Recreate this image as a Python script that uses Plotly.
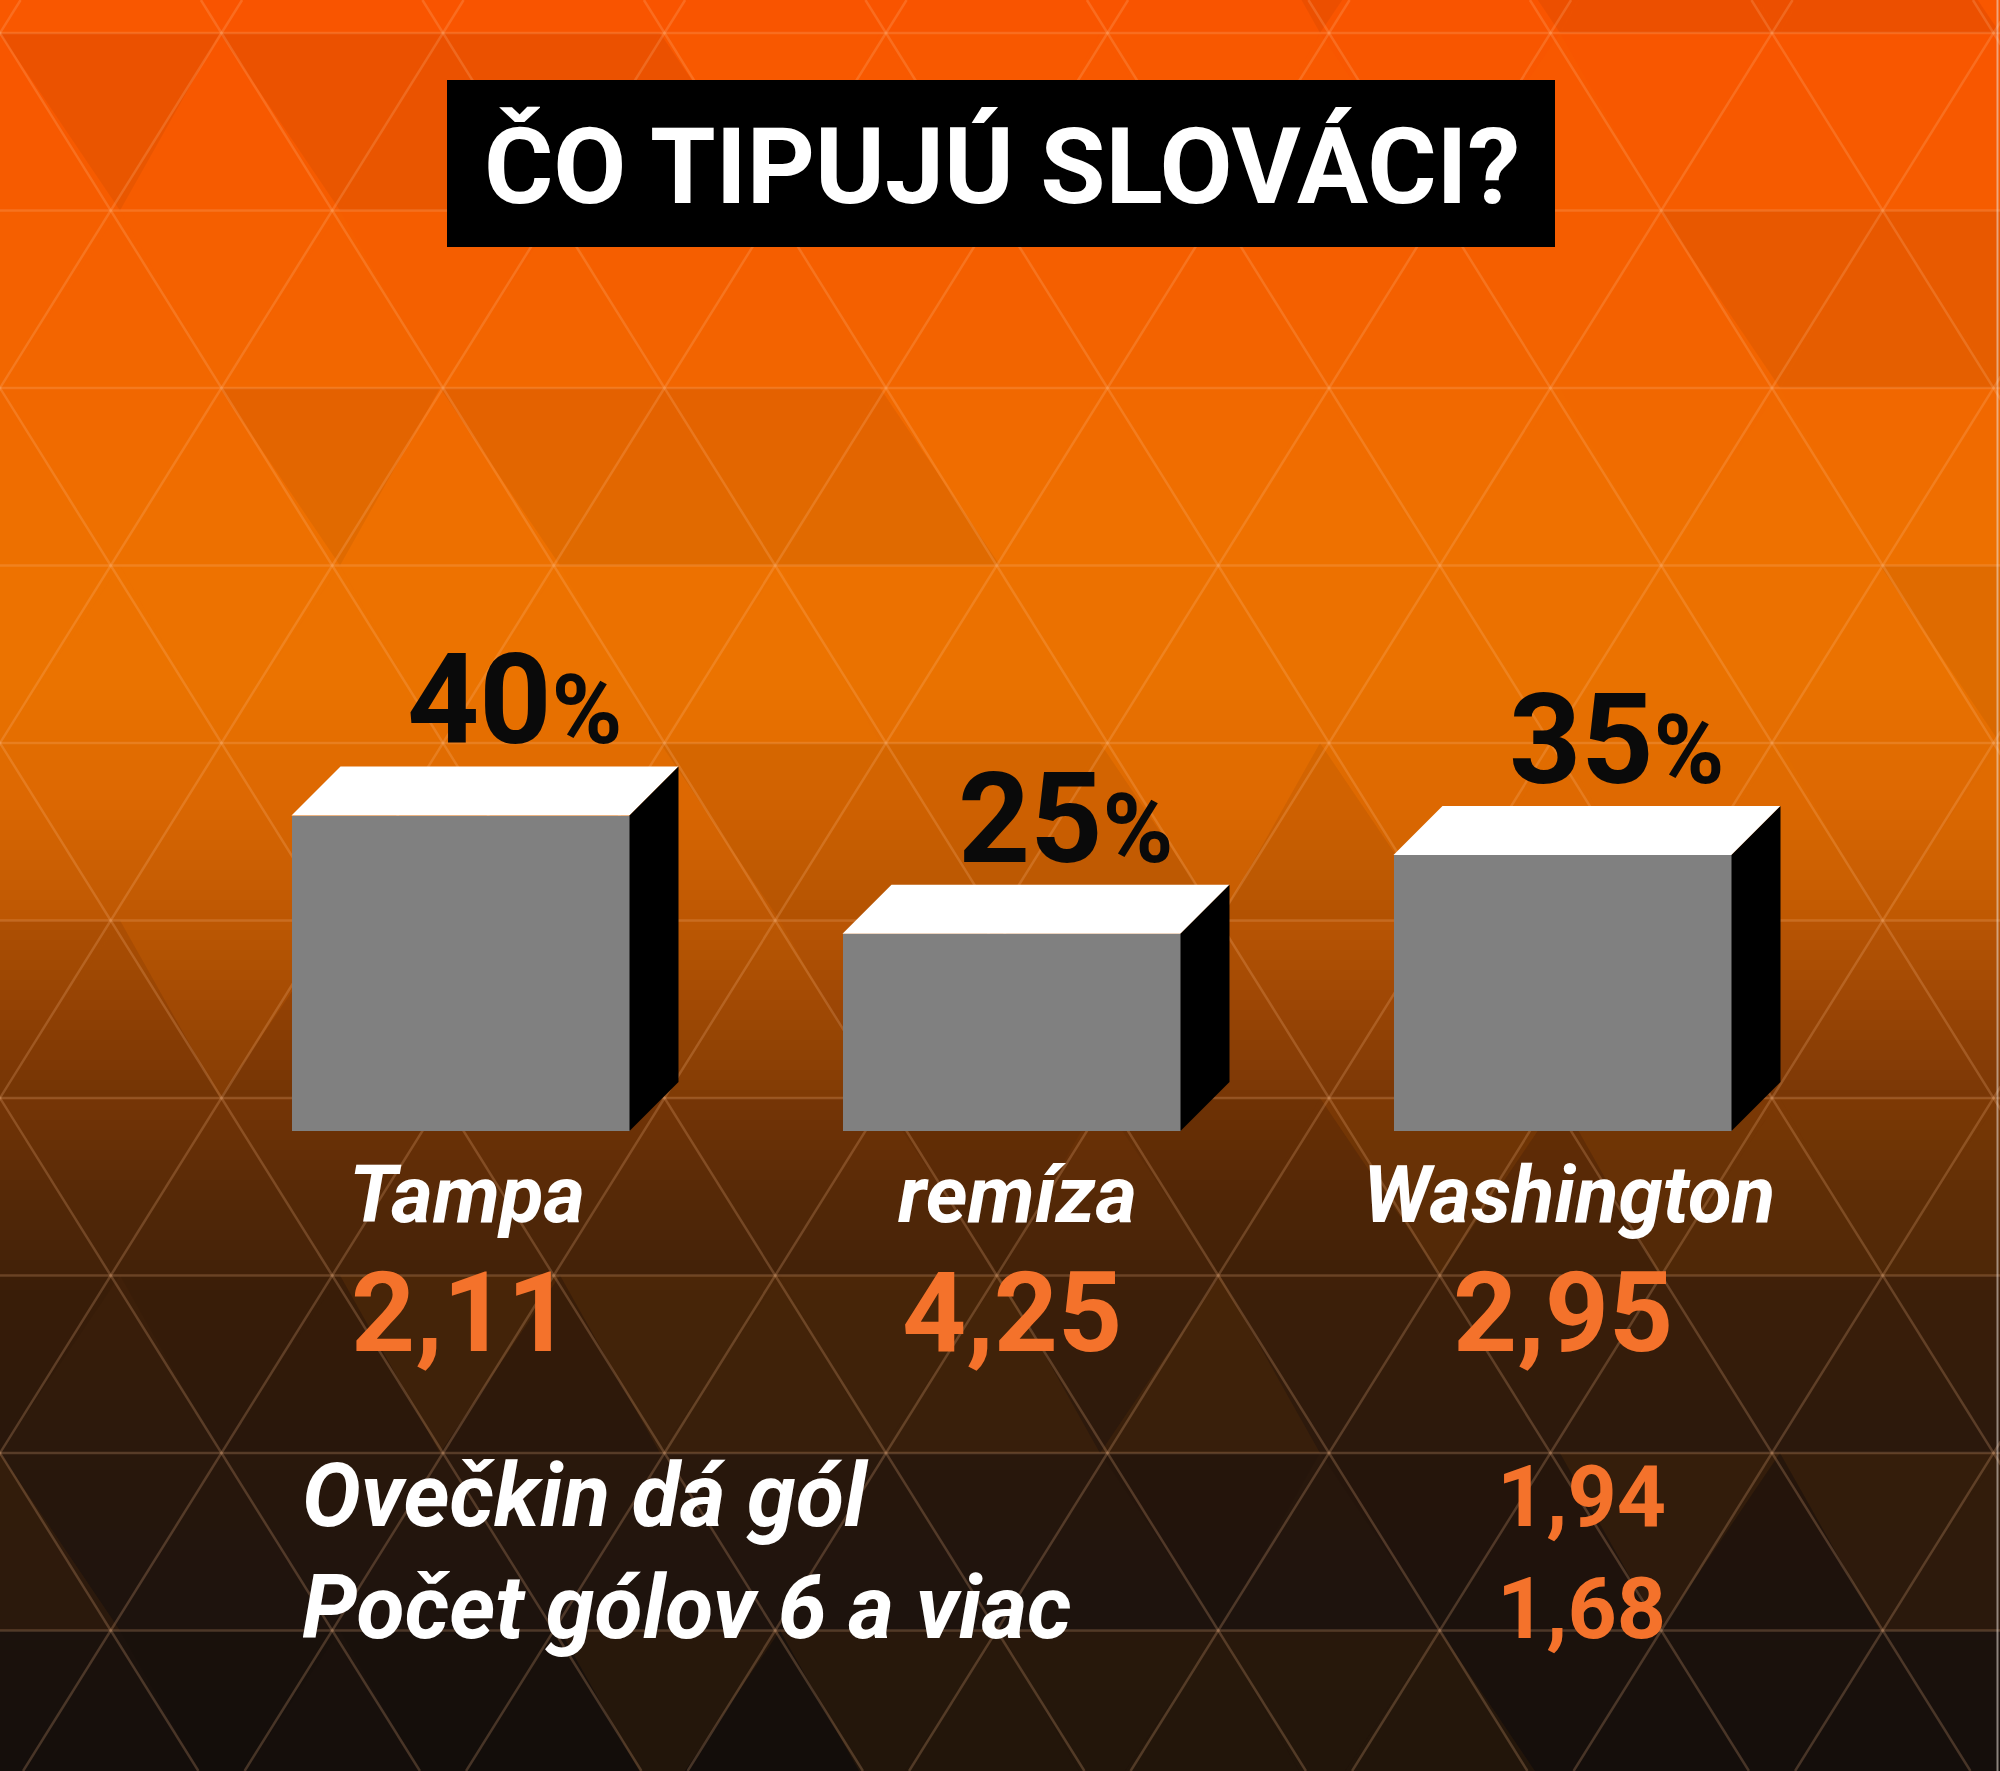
import plotly.graph_objects as go

# ---------------- data ----------------
categories = ["Tampa", "remíza", "Washington"]
tip_share = [40, 25, 35]                 # % of Slovak bettors
odds = ["2,11", "4,25", "2,95"]
extra_bets = ["Ovečkin dá gól", "Počet gólov 6 a viac"]
extra_odds = ["1,94", "1,68"]
title_text = "ČO TIPUJÚ SLOVÁCI?"

# ---------------- geometry / style ----------------
W, H = 2000, 1771
X0_PX, PX_PER_CAT = 460.5, 551.0      # category 0 centre, px per category
Y0_PX, PX_PER_PCT = 1131.0, 7.887     # baseline of bars, px per percent
BAR_W = 338 / PX_PER_CAT
DX = 49 / PX_PER_CAT                  # 3D depth (x)
DY = 49 / PX_PER_PCT                  # 3D depth (y)
ORANGE = "#F4722B"
FONT = "Roboto"
DESC = 0.244                          # Roboto descent (em)

x_range = [-X0_PX / PX_PER_CAT, (W - X0_PX) / PX_PER_CAT]
y_range = [-(H - Y0_PX) / PX_PER_PCT, Y0_PX / PX_PER_PCT]


def py(px):
    return 1 - px / H


def px_(px):
    return px / W


def hex2rgb(h):
    h = h.lstrip("#")
    return tuple(int(h[i:i + 2], 16) for i in (0, 2, 4))


grad_stops = [
    (0, "#F95400"), (300, "#F46000"), (520, "#EE7000"), (680, "#EA7200"),
    (800, "#DC6802"), (900, "#C25A03"), (1000, "#9E4705"), (1100, "#773606"),
    (1200, "#542807"), (1300, "#3C1F09"), (1450, "#2A180C"), (1600, "#1E130D"),
    (1771, "#140E0B"),
]


def grad_color(y):
    for (y0, c0), (y1, c1) in zip(grad_stops[:-1], grad_stops[1:]):
        if y0 <= y <= y1:
            t = (y - y0) / (y1 - y0)
            a, b = hex2rgb(c0), hex2rgb(c1)
            return "rgb(%d,%d,%d)" % tuple(round(a[k] + (b[k] - a[k]) * t) for k in range(3))
    return grad_stops[-1][1]


shapes = []
# gradient background
step = 10
for y in range(0, H, step):
    shapes.append(dict(type="rect", xref="paper", yref="paper", x0=0, x1=1,
                       y0=py(min(y + step + 1, H)), y1=py(y),
                       fillcolor=grad_color(y + step / 2), line=dict(width=0), layer="below"))

# triangle mosaic (decorative facets)
SIDE, ROW_H, LINE0 = 221.5, 177.5, 33.0
for r in range(-1, 10):
    ytop = LINE0 + ROW_H * r
    ybot = ytop + ROW_H
    off_top = 0 if r % 2 == 0 else SIDE / 2
    for m in range(-1, 11):
        for kind in (0, 1):
            xa = off_top + SIDE * m
            if kind == 0:   # pointing down
                pts = [(xa, ytop), (xa + SIDE, ytop), (xa + SIDE / 2, ybot)]
            else:           # pointing up
                pts = [(xa, ytop), (xa + SIDE / 2, ybot), (xa - SIDE / 2, ybot)]
            h = ((r + 3) * 73 + (m + 2) * 151 + kind * 37) * 2654435761 % 1000
            if h < 300:
                fc = "rgba(255,140,0,0.06)"
            elif h < 500:
                fc = "rgba(0,0,0,0.05)"
            else:
                continue
            path = "M " + " L ".join("%.2f,%.4f" % (px_(x), py(y)) for x, y in pts) + " Z"
            shapes.append(dict(type="path", xref="paper", yref="paper", path=path,
                               fillcolor=fc, line=dict(width=0), layer="below"))

LINE_COL = "rgba(255,190,140,0.22)"
for k in range(0, 10):
    yy = LINE0 + ROW_H * k
    shapes.append(dict(type="line", xref="paper", yref="paper", x0=0, x1=1, y0=py(yy), y1=py(yy),
                       line=dict(color=LINE_COL, width=2.5), layer="below"))
slope = (SIDE / 2) / ROW_H
for m in range(-6, 16):
    x0 = SIDE * m
    for sgn in (1, -1):
        xa = x0 + sgn * (0 - LINE0) * slope
        xb = x0 + sgn * (H - LINE0) * slope
        shapes.append(dict(type="line", xref="paper", yref="paper",
                           x0=px_(xa), x1=px_(xb), y0=py(0), y1=py(H),
                           line=dict(color=LINE_COL, width=2.5), layer="below"))

# thin light border on the right edge
shapes.append(dict(type="line", xref="paper", yref="paper", x0=px_(1997.5), x1=px_(1997.5),
                   y0=0, y1=1, line=dict(color="rgba(235,225,220,0.55)", width=2), layer="below"))

# title box
shapes.append(dict(type="rect", xref="paper", yref="paper", x0=px_(447), x1=px_(1555),
                   y0=py(247), y1=py(80), fillcolor="#000000", line=dict(width=0), layer="below"))

# ---------------- traces ----------------
xs = list(range(len(categories)))
fig = go.Figure()
fig.add_trace(go.Bar(x=xs, y=tip_share, width=BAR_W, marker=dict(color="#808080", line=dict(width=0)),
                     hoverinfo="skip", showlegend=False))

for i, v in zip(xs, tip_share):
    l, r_ = i - BAR_W / 2, i + BAR_W / 2
    fig.add_trace(go.Scatter(x=[l, r_, r_ + DX, l + DX, l], y=[v, v, v + DY, v + DY, v],
                             mode="lines", fill="toself", fillcolor="#FFFFFF",
                             line=dict(width=0, color="#FFFFFF"), hoverinfo="skip", showlegend=False))
    fig.add_trace(go.Scatter(x=[r_, r_ + DX, r_ + DX, r_, r_], y=[0, DY, v + DY, v, 0],
                             mode="lines", fill="toself", fillcolor="#000000",
                             line=dict(width=0, color="#000000"), hoverinfo="skip", showlegend=False))

annotations = []
# percentage labels
PCT_SIZE = 126
for i, v in zip(xs, tip_share):
    annotations.append(dict(x=i + 54 / PX_PER_CAT, y=v + DY, xref="x", yref="y",
                            text="<b>%d<span style='font-size:96px'>%%</span></b>" % v,
                            showarrow=False, xanchor="center", yanchor="bottom",
                            yshift=-(DESC * PCT_SIZE + 1 - 22),
                            font=dict(family=FONT, size=PCT_SIZE, color="#0A0A0A")))
# category labels
CAT_SIZE = 80
for i, c in zip(xs, categories):
    annotations.append(dict(x=i, y=py(1223 + DESC * CAT_SIZE + 1), xref="x", yref="paper", text=c,
                            showarrow=False, xanchor="center", yanchor="bottom", xshift=6,
                            font=dict(family=FONT, size=CAT_SIZE, color="#FFFFFF",
                                      weight="bold", style="italic")))
# odds
ODDS_SIZE = 112
for i, o in zip(xs, odds):
    annotations.append(dict(x=i, y=py(1352 + DESC * ODDS_SIZE + 1), xref="x", yref="paper",
                            text=o, showarrow=False, xanchor="center", yanchor="bottom",
                            font=dict(family=FONT, size=ODDS_SIZE, color=ORANGE, weight="bold")))
# extra bets
EX_SIZE = 88
EXO_SIZE = 86
for j, (b, o) in enumerate(zip(extra_bets, extra_odds)):
    base = [1527, 1639][j]
    annotations.append(dict(x=px_(300), y=py(base + DESC * EX_SIZE + 1), xref="paper", yref="paper", text=b,
                            showarrow=False, xanchor="left", yanchor="bottom",
                            font=dict(family=FONT, size=EX_SIZE, color="#FFFFFF",
                                      weight="bold", style="italic")))
    annotations.append(dict(x=px_(1668), y=py(base + DESC * EXO_SIZE + 1), xref="paper", yref="paper", text=o,
                            showarrow=False, xanchor="right", yanchor="bottom",
                            font=dict(family=FONT, size=EXO_SIZE, color=ORANGE, weight="bold")))
# title
annotations.append(dict(x=px_(1002), y=py(204 + DESC * 106 + 1), xref="paper", yref="paper",
                        text=title_text, showarrow=False, xanchor="center", yanchor="bottom",
                        font=dict(family=FONT, size=106, color="#FFFFFF", weight="bold")))

fig.update_layout(
    width=W, height=H, autosize=False,
    margin=dict(l=0, r=0, t=0, b=0, pad=0),
    paper_bgcolor="#140E0B", plot_bgcolor="rgba(0,0,0,0)",
    xaxis=dict(range=x_range, visible=False, fixedrange=True),
    yaxis=dict(range=y_range, visible=False, fixedrange=True),
    shapes=shapes, annotations=annotations, showlegend=False,
    bargap=0,
)

fig.write_html("out.html", config={"displayModeBar": False},
               post_script="document.body.style.margin='0px';document.body.style.overflow='hidden';")
